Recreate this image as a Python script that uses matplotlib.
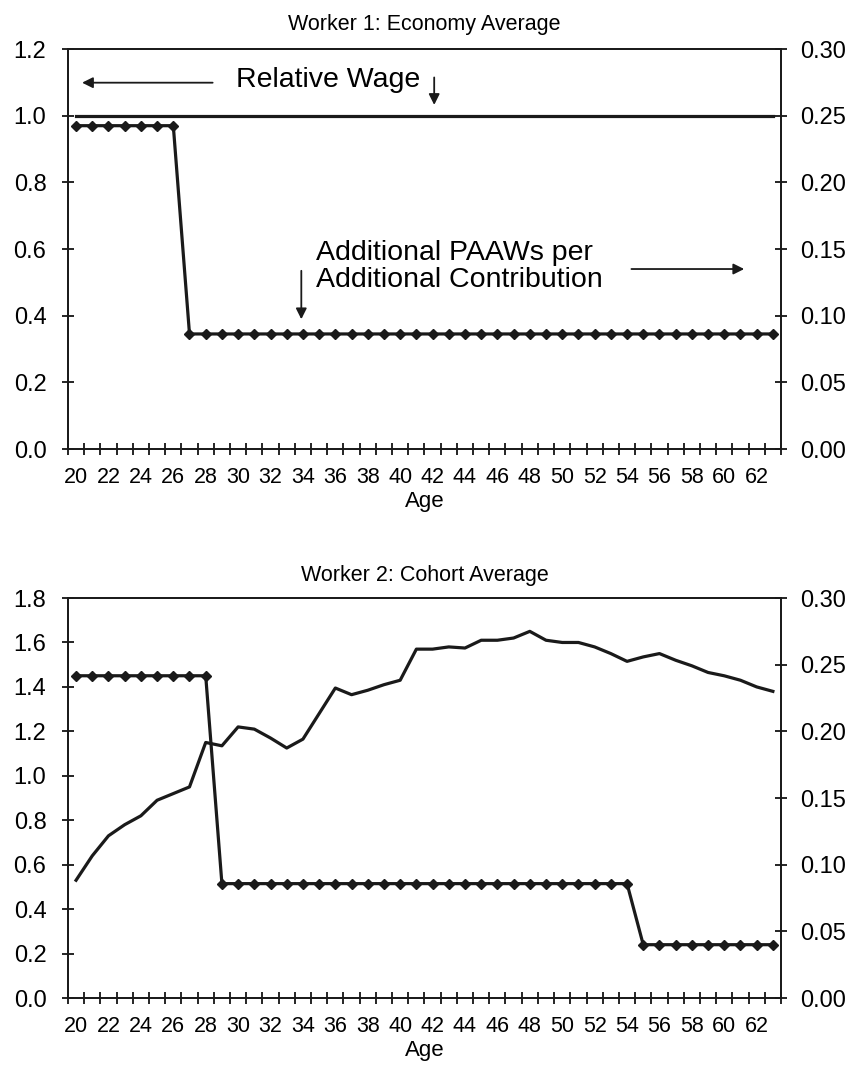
import matplotlib
matplotlib.use("Agg")
import matplotlib.pyplot as plt
from matplotlib.ticker import FixedLocator, FormatStrFormatter

plt.rcParams['font.family'] = ['Liberation Sans', 'DejaVu Sans']

ages = list(range(20, 64))

# Worker 1: economy average
w1_wage = [1.0] * 44
w1_paaw = [0.2425] * 7 + [0.0863] * 37

# Worker 2: cohort average
w2_wage = [0.53, 0.64, 0.73, 0.78, 0.82, 0.89, 0.92, 0.95, 1.15, 1.135,
           1.22, 1.21, 1.17, 1.125, 1.165, 1.28, 1.395, 1.365, 1.385, 1.41,
           1.43, 1.57, 1.57, 1.58, 1.575, 1.61, 1.61, 1.62, 1.65, 1.61,
           1.60, 1.60, 1.58, 1.55, 1.515, 1.535, 1.55, 1.52, 1.495, 1.465,
           1.45, 1.43, 1.40, 1.38]
w2_paaw = [0.2417] * 9 + [0.0858] * 26 + [0.040] * 9

fig = plt.figure(figsize=(8.57, 10.75), dpi=100)

FS = 17


def panel(rect, title, wage, paaw, ymax, ystep, tpad):
    ax = fig.add_axes(rect)
    ax.plot(ages, wage, color='#1a1a1a', lw=2.3, zorder=3)
    ax.set_xlim(19.5, 63.5)
    ax.set_ylim(0, ymax)
    yt = [round(i * ystep, 2) for i in range(int(round(ymax / ystep)) + 1)]
    ax.set_yticks(yt)
    ax.yaxis.set_major_formatter(FormatStrFormatter('%.1f'))
    # category boundaries as ticks, labels every other age
    ax.xaxis.set_major_locator(FixedLocator([a - 0.5 for a in range(20, 65)]))
    ax.xaxis.set_minor_locator(FixedLocator(list(range(20, 63, 2))))
    ax.xaxis.set_major_formatter(plt.NullFormatter())
    ax.set_xticklabels([str(a) for a in range(20, 63, 2)], minor=True, fontsize=15.5)
    ax.tick_params(axis='x', which='major', direction='inout', length=9, width=1.2)
    ax.tick_params(axis='x', which='minor', length=0, pad=13)
    ax.tick_params(axis='y', direction='inout', length=9, width=1.2, labelsize=FS, pad=11)
    ax.set_xlabel('Age', fontsize=16, labelpad=2)
    ax.set_title(title, fontsize=15.5, pad=tpad)
    for s in ax.spines.values():
        s.set_linewidth(1.3)
        s.set_color('#1a1a1a')

    ax2 = ax.twinx()
    ax2.plot(ages, paaw, color='#1a1a1a', lw=2.3, marker='D', ms=5.5, zorder=3)
    ax2.set_ylim(0, 0.30)
    ax2.set_yticks([0, 0.05, 0.10, 0.15, 0.20, 0.25, 0.30])
    ax2.yaxis.set_major_formatter(FormatStrFormatter('%.2f'))
    ax2.tick_params(axis='y', direction='inout', length=9, width=1.2, labelsize=FS, pad=9)
    for s in ax2.spines.values():
        s.set_linewidth(1.3)
        s.set_color('#1a1a1a')
    return ax, ax2


ax, ax2 = panel([0.0793, 0.5823, 0.832, 0.3721], 'Worker 1: Economy Average',
                w1_wage, w1_paaw, 1.2, 0.2, 14)

arrow = dict(arrowstyle='-|>', color='#1a1a1a', lw=1.3, mutation_scale=16)
ax.text(29.9, 1.108, 'Relative Wage', fontsize=20.5, va='center', ha='left')
ax.annotate('', xy=(20.2, 1.099), xytext=(28.6, 1.099), arrowprops=arrow)
ax.annotate('', xy=(42.1, 1.024), xytext=(42.1, 1.123), arrowprops=arrow)
ax.text(34.8, 0.549, 'Additional PAAWs per\nAdditional Contribution', fontsize=20.5,
        va='center', ha='left', linespacing=1.05)
ax.annotate('', xy=(61.4, 0.54), xytext=(54.1, 0.54), arrowprops=arrow)
ax.annotate('', xy=(33.9, 0.381), xytext=(33.9, 0.543), arrowprops=arrow)

panel([0.0793, 0.0716, 0.832, 0.3721], 'Worker 2: Cohort Average',
      w2_wage, w2_paaw, 1.8, 0.2, 12)

fig.savefig('out.png', dpi=100)
